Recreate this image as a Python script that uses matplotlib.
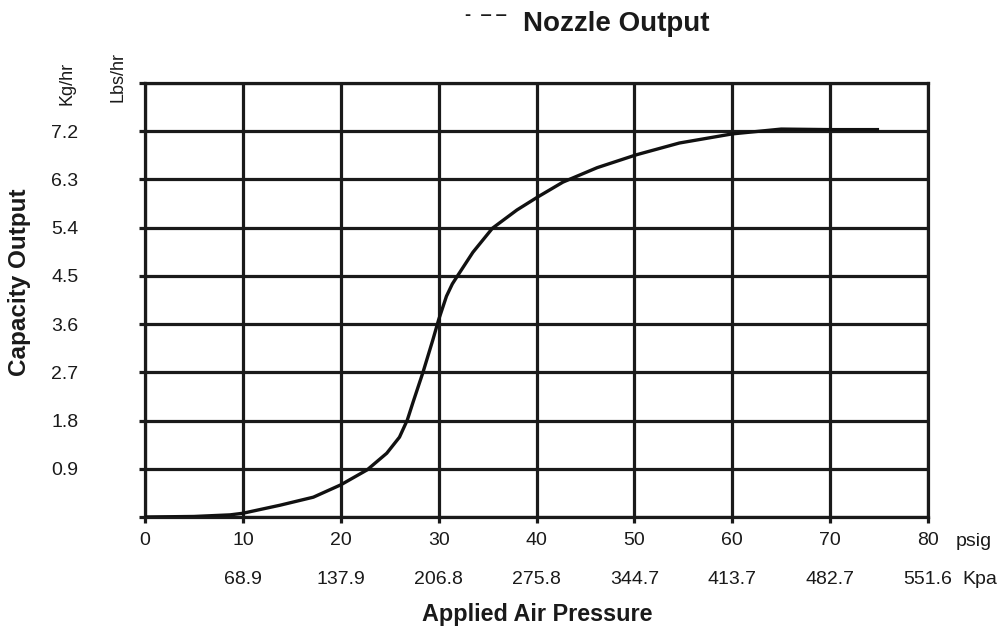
import numpy as np
import matplotlib
matplotlib.use("Agg")
import matplotlib.pyplot as plt
from matplotlib import transforms

plt.rcParams['font.family'] = ['Liberation Sans', 'DejaVu Sans']

############################################################################
## data
############################################################################
psig = [0, 5, 8.7, 10, 13.8, 17.2, 20, 22.7, 24.7, 26.0, 26.8, 27.4, 28.4,
        29.4, 30.0, 30.8, 31.4, 32.0, 33.5, 35.5, 38.0, 40.1, 42.7, 46.2,
        50.2, 54.6, 60, 65, 70, 75]
capacity = [0, 0.01, 0.04, 0.07, 0.22, 0.37, 0.6, 0.88, 1.19, 1.49, 1.81,
            2.15, 2.7, 3.3, 3.68, 4.12, 4.35, 4.52, 4.94, 5.39, 5.73, 5.97,
            6.25, 6.52, 6.76, 6.98, 7.15, 7.24, 7.23, 7.23]

psig_ticks = [0, 10, 20, 30, 40, 50, 60, 70, 80]
kpa_labels = ['', '68.9', '137.9', '206.8', '275.8', '344.7', '413.7', '482.7', '551.6']
kg_ticks = [0, 0.9, 1.8, 2.7, 3.6, 4.5, 5.4, 6.3, 7.2, 8.1]
kg_labels = ['', '0.9', '1.8', '2.7', '3.6', '4.5', '5.4', '6.3', '7.2', '']

W, H = 1006, 632
ink = '#1a1a1a'


def px(x, y):
    ## pixel position -> figure fraction
    return x / W, 1 - y / H


fig = plt.figure(figsize=(W / 100, H / 100), dpi=100)
l, b = px(145, 517)
r, t = px(928, 83)
ax = fig.add_axes([l, b, r - l, t - b])

lw = 2.3
ax.plot(psig, capacity, color='#111111', lw=2.4, zorder=3,
        solid_capstyle='butt', solid_joinstyle='round')

ax.set_xlim(0, 80)
ax.set_ylim(0, 8.1)
ax.set_xticks(psig_ticks)
ax.set_xticklabels([str(p) for p in psig_ticks])
ax.set_yticks(kg_ticks)
ax.set_yticklabels(kg_labels)
ax.grid(True, color=ink, lw=lw)
for s in ax.spines.values():
    s.set_linewidth(lw)
    s.set_color(ink)
ax.tick_params(axis='both', length=4, width=lw, color=ink, labelsize=14, labelcolor=ink)
ax.tick_params(axis='y', pad=44)
ax.tick_params(axis='x', pad=7)

## second row: Kpa values
trans = transforms.blended_transform_factory(ax.transData, fig.transFigure)
for p, k in zip(psig_ticks, kpa_labels):
    ax.text(p, px(0, 580)[1], k, transform=trans, ha='center', va='center',
            fontsize=14, color=ink)

fig.text(*px(974, 541), 'psig', ha='center', va='center', fontsize=14, color=ink)
fig.text(*px(980, 580), 'Kpa', ha='center', va='center', fontsize=14, color=ink)

fig.text(*px(537, 614), 'Applied Air Pressure', ha='center', va='center',
         fontsize=16.8, fontweight='bold', color=ink)
fig.text(*px(20, 282), 'Capacity Output', ha='center', va='center', rotation=90,
         fontsize=17.5, fontweight='bold', color=ink)
fig.text(*px(67, 83), 'Kg/hr', ha='center', va='center', rotation=90,
         fontsize=13, color=ink)
fig.text(*px(118, 77), 'Lbs/hr', ha='center', va='center', rotation=90,
         fontsize=13, color=ink)
fig.text(*px(616, 24), 'Nozzle Output', ha='center', va='center',
         fontsize=20, fontweight='bold', color=ink)
fig.text(*px(486, 16), '-  \u2012 \u2012', ha='center', va='center',
         fontsize=13, fontweight='bold', color=ink)

fig.savefig('out.png', dpi=100, facecolor='white')
